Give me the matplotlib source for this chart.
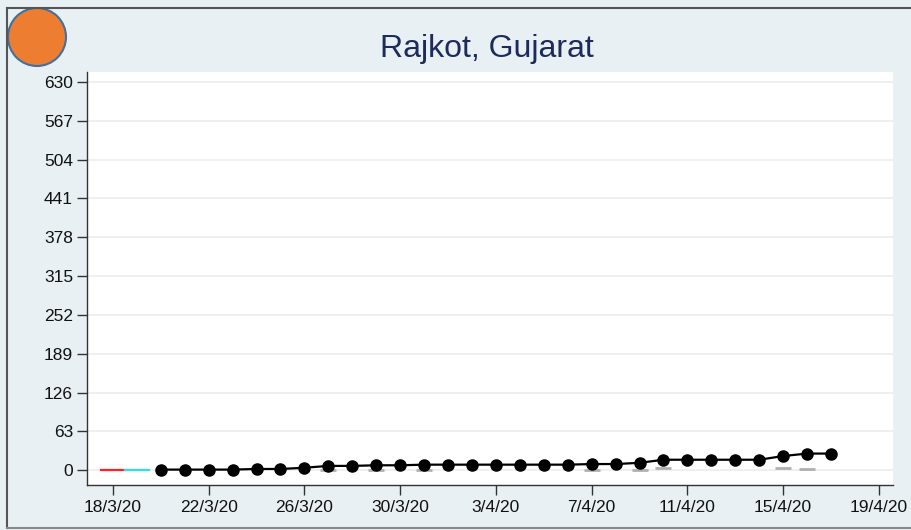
import matplotlib
matplotlib.use('Agg')
import matplotlib.pyplot as plt
import matplotlib.dates as mdates
from matplotlib.patches import Circle
from matplotlib.lines import Line2D
from matplotlib.transforms import IdentityTransform
from datetime import datetime, timedelta

plt.rcParams['font.family'] = ['Liberation Sans', 'DejaVu Sans']

# cumulative cases, one point per day from 20/3/20 to 17/4/20
start = datetime(2020, 3, 20)
cases = [1, 1, 1, 1, 2, 2, 4, 7, 7, 8, 8, 9, 9, 9, 9, 9, 9, 9,
         10, 10, 12, 17, 17, 17, 17, 17, 23, 27, 27]
days = [start + timedelta(days=i) for i in range(len(cases))]

# faint grey dash markers (daily values)
dash_days = ['2020-03-27', '2020-03-29', '2020-03-31', '2020-04-07',
             '2020-04-09', '2020-04-10', '2020-04-15', '2020-04-16']
dash_vals = [1, 1, 1, 1, 1, 3, 3, 2]

# red / cyan segments at zero before the first point
red_x = ['2020-03-17 12:00', '2020-03-18 12:00']
cyan_x = ['2020-03-18 12:00', '2020-03-19 12:00']
seg_y = [0, 0]

yticks = [0, 63, 126, 189, 252, 315, 378, 441, 504, 567, 630]
xticks = ['2020-03-18', '2020-03-22', '2020-03-26', '2020-03-30', '2020-04-03',
          '2020-04-07', '2020-04-11', '2020-04-15', '2020-04-19']

def todate(s):
	fmt = '%Y-%m-%d %H:%M' if ':' in s else '%Y-%m-%d'
	return datetime.strptime(s, fmt)

def datelabel(v, p):
	d = mdates.num2date(v)
	return '{}/{}/{}'.format(d.day, d.month, d.strftime('%y'))

bg = '#e8f0f3'
fig = plt.figure(figsize=(9.12, 5.30), dpi=100, facecolor=bg)
ax = fig.add_axes([0.0954, 0.0849, 0.8836, 0.7791])
ax.set_facecolor('white')

ax.plot([todate(s) for s in red_x], seg_y, color='#ff2020', lw=1.6, zorder=3)
ax.plot([todate(s) for s in cyan_x], seg_y, color='#30e0e8', lw=1.6, zorder=3)
ax.plot([todate(s) for s in dash_days], dash_vals, ls='none', marker='_',
        ms=11, mew=2, color='#b0b0b0', zorder=2)
ax.plot(days, cases, color='black', lw=1.6, marker='o', ms=8, zorder=4)

ax.set_ylim(-24, 646)
ax.set_yticks(yticks)
ax.set_yticklabels([str(v) for v in yticks])
ax.set_xlim(datetime(2020, 3, 16, 22), datetime(2020, 4, 19, 14))
ax.set_xticks([todate(s) for s in xticks])
ax.xaxis.set_major_formatter(plt.FuncFormatter(datelabel))

ax.grid(axis='y', color='#ececec', lw=1.2)
ax.set_axisbelow(True)
for s in ['top', 'right']:
	ax.spines[s].set_visible(False)
for s in ['left', 'bottom']:
	ax.spines[s].set_color('#333333')
	ax.spines[s].set_linewidth(1.0)
ax.tick_params(axis='both', colors='#333333', labelcolor='#111111', labelsize=12.5,
               length=7, width=1.0)
ax.tick_params(axis='y', pad=3)
ax.tick_params(axis='x', pad=4)

fig.text(0.534, 0.907, 'Rajkot, Gujarat', ha='center', va='center',
         fontsize=23, color='#1c2a5c')

# frame lines (top, left, bottom)
ident = IdentityTransform()
fig.add_artist(Line2D([7, 912], [522, 522], transform=ident, color='#555555', lw=1.5))
fig.add_artist(Line2D([7, 7], [2, 522], transform=ident, color='#555555', lw=1.5))
fig.add_artist(Line2D([7, 912], [2, 2], transform=ident, color='#888888', lw=1.5))

# orange badge
fig.add_artist(Circle((37, 493), 29, transform=ident, facecolor='#ed7d31',
                      edgecolor='#41719c', lw=1.5))

fig.savefig('out.png', dpi=100, facecolor=bg)
